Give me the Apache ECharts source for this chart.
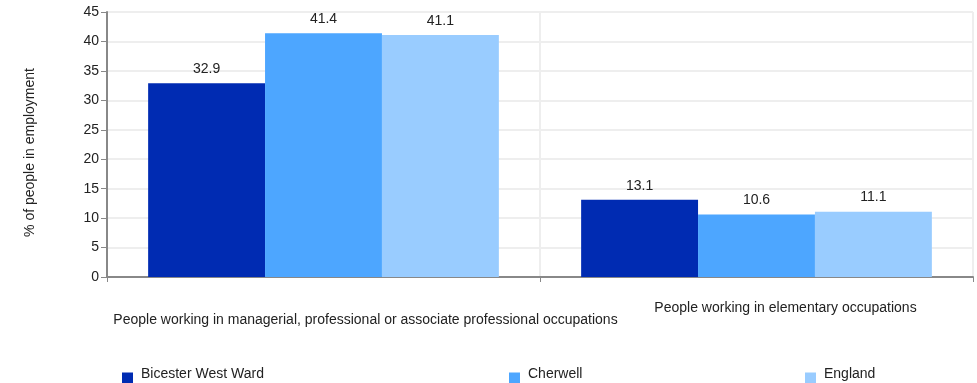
<!DOCTYPE html>
<html><head><meta charset="utf-8">
<script src="https://cdn.jsdelivr.net/npm/echarts@6/dist/echarts.min.js"></script>
<style>html,body{margin:0;padding:0;background:#fff}#c{width:977px;height:383px}</style>
</head><body><div id="c"></div>
<script>
const categories = ["People working in managerial, professional or associate professional occupations", "People working in elementary occupations"];
const seriesNames = ["Bicester West Ward", "Cherwell", "England"];
const bicester = [32.9, 13.1];
const cherwell = [41.4, 10.6];
const england = [41.1, 11.1];
const colors = ["#002bb2", "#4da6ff", "#99ccff"];
const FONT = "Liberation Sans";

const chart = echarts.init(document.getElementById('c'), null, {renderer: 'canvas'});
const mk = (name, data, color) => ({
  name, type: 'bar', data, barGap: '0%', barCategoryGap: '19%',
  itemStyle: {color},
  label: {show: true, position: 'top', distance: 7, color: '#222', fontFamily: FONT, fontSize: 14}
});
const legendText = {fontFamily: FONT, fontSize: 14, color: '#222',
  rich: {t: {fontFamily: FONT, fontSize: 14, color: '#222', padding: [0, 0, 8, 3]}}};
const legendCommon = {icon: 'rect', top: 362, itemWidth: 11, itemHeight: 11, textStyle: legendText, formatter: '{t|{name}}'};
chart.setOption({
  animation: false,
  textStyle: {fontFamily: FONT},
  grid: {left: 107, top: 12, right: 4, bottom: 106},
  legend: [
    Object.assign({data: [seriesNames[0]], left: 117}, legendCommon),
    Object.assign({data: [seriesNames[1]], left: 504}, legendCommon),
    Object.assign({data: [seriesNames[2]], left: 800}, legendCommon)
  ],
  xAxis: {
    type: 'category',
    data: [
      {value: categories[0], textStyle: {padding: [32, 0, 0, 84]}},
      {value: categories[1], textStyle: {padding: [20, 0, 0, 58]}}
    ],
    axisLine: {lineStyle: {color: '#888', width: 2}},
    axisTick: {show: true, length: 5, lineStyle: {color: '#888'}},
    splitLine: {show: true, lineStyle: {color: '#eeeeee', width: 2}},
    axisLabel: {interval: 0, color: '#222', fontFamily: FONT, fontSize: 14, margin: 4}
  },
  yAxis: {
    type: 'value', min: 0, max: 45, interval: 5,
    name: '% of people in employment', nameLocation: 'middle', nameGap: 70,
    nameTextStyle: {fontFamily: FONT, fontSize: 14, color: '#222', padding: [0, 16, 0, 0]},
    axisLine: {show: true, lineStyle: {color: '#888', width: 2}},
    axisTick: {show: true, length: 6, lineStyle: {color: '#888'}},
    splitLine: {show: true, lineStyle: {color: '#eeeeee', width: 2}},
    axisLabel: {color: '#222', fontFamily: FONT, fontSize: 14, margin: 8}
  },
  series: [mk(seriesNames[0], bicester, colors[0]), mk(seriesNames[1], cherwell, colors[1]), mk(seriesNames[2], england, colors[2])]
});
</script></body></html>
